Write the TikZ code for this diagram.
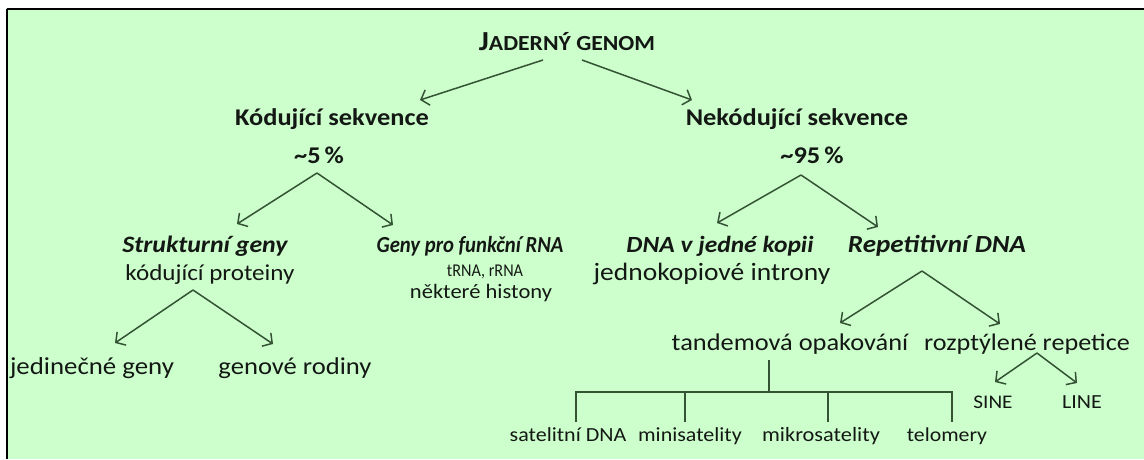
\documentclass[tikz,border=0pt]{standalone}
\usepackage{fontspec}
\setmainfont{Carlito}[FakeStretch=1.1]
\newfontfamily\narrowf{Carlito}[FakeStretch=0.9]
\usetikzlibrary{arrows.meta}
\definecolor{bg}{RGB}{204,255,204}
\definecolor{ln}{RGB}{52,82,52}
\definecolor{tx}{RGB}{20,24,20}
\tikzset{
  x=1pt, y=-1pt,
  lbl/.style={anchor=base, inner sep=0pt, text=tx, font=\fontsize{#1}{#1}\selectfont},
  lbl/.default=24,
  bold/.style={anchor=base, inner sep=0pt, text=tx, font=\fontsize{#1}{#1}\selectfont\bfseries},
  bold/.default=24,
  bi/.style={anchor=base, inner sep=0pt, text=tx, font=\fontsize{#1}{#1}\selectfont\bfseries\itshape},
  bi/.default=24,
  nlbl/.style={anchor=base, inner sep=0pt, text=tx, font=\narrowf\fontsize{#1}{#1}\selectfont},
  nbi/.style={anchor=base, inner sep=0pt, text=tx, font=\narrowf\fontsize{#1}{#1}\selectfont\bfseries\itshape},
  arr/.style={draw=ln, line width=1.5pt, -{Straight Barb[length=7pt,width=16pt,line width=1.5pt]}},
  tree/.style={draw=ln, line width=1.5pt},
}
\begin{document}
\begin{tikzpicture}
\useasboundingbox (0,0) rectangle (1144,459);
\fill[white] (0,0) rectangle (1144,459);
\fill[bg] (6,8) rectangle (1144,459);
\draw[line width=2.5pt] (7,9) -- (1144,9);
\draw[line width=2.5pt] (7,9) -- (7,459);

% texts
\node[bold] (title) at (567,50) {\fontsize{27.5}{30}\selectfont J\fontsize{21.5}{24}\selectfont ADERNÝ GENOM};
\node[bold=24] (kod) at (332,125) {Kódující sekvence};
\node[bold=24] (kodp) at (319,163) {\textasciitilde 5\,\%};
\node[bold=24] (nekod) at (797,125) {Nekódující sekvence};
\node[bold=24] (nekodp) at (812,163) {\textasciitilde 95\,\%};
\node[bi=23.5] (strukt) at (205,252) {Strukturní geny};
\node[lbl=22.8] (struktd) at (210,280) {kódující proteiny};
\node[nbi=23] (funk) at (470,252) {Geny pro funkční RNA};
\node[nlbl=18] (funkd1) at (485,276) {tRNA, rRNA};
\node[lbl=20.5] (funkd2) at (481,298) {některé histony};
\node[bi=23.2] (jedna) at (720,252) {DNA v jedné kopii};
\node[lbl=25] (jednad) at (712,280) {jednokopiové introny};
\node[bi=24.6] (rep) at (937,252) {Repetitivní DNA};
\node[lbl=24.4] (jed) at (92,374) {jedinečné geny};
\node[lbl=24.2] (genrod) at (295,374) {genové rodiny};
\node[lbl=24] (tand) at (790,350) {tandemová opakování};
\node[lbl=23.8] (rozp) at (1027,350) {rozptýlené repetice};
\node[lbl=20] (sat) at (568,441) {satelitní DNA};
\node[lbl=20] (mini) at (690,441) {minisatelity};
\node[lbl=20.3] (mikro) at (821,441) {mikrosatelity};
\node[lbl=19.8] (telo) at (947,441) {telomery};
\node[lbl=19.3] (sine) at (993,408) {SINE};
\node[lbl=20] (line) at (1082,408) {LINE};

% connector points
\coordinate (tA) at (543,60);  \coordinate (tB) at (582,60);
\coordinate (tL) at (420,100); \coordinate (tR) at (692,100);
\coordinate (kA) at (317,173);
\coordinate (kL) at (237,224); \coordinate (kR) at (393,225);
\coordinate (nA) at (801,175);
\coordinate (nL) at (717,223); \coordinate (nR) at (878,227);
\coordinate (sA) at (193,290);
\coordinate (sL) at (115,343); \coordinate (sR) at (273,344);
\coordinate (rA) at (922,271);
\coordinate (rL) at (840,323); \coordinate (rR) at (1000,324);
\coordinate (zA) at (1037,353);
\coordinate (zL) at (995,382); \coordinate (zR) at (1077,383);
\coordinate (tv) at (769,360);
\coordinate (b0) at (769,392);
\coordinate (b1) at (576,392); \coordinate (b1d) at (576,422);
\coordinate (b2) at (685,392); \coordinate (b2d) at (685,422);
\coordinate (b3) at (828,392); \coordinate (b3d) at (828,422);
\coordinate (b4) at (952,392); \coordinate (b4d) at (952,422);

% arrows
\draw[arr] (tA) -- (tL);
\draw[arr] (tB) -- (tR);
\draw[arr] (kA) -- (kL);
\draw[arr] (kA) -- (kR);
\draw[arr] (nA) -- (nL);
\draw[arr] (nA) -- (nR);
\draw[arr] (sA) -- (sL);
\draw[arr] (sA) -- (sR);
\draw[arr] (rA) -- (rL);
\draw[arr] (rA) -- (rR);
\draw[arr] (zA) -- (zL);
\draw[arr] (zA) -- (zR);

% tandem tree
\draw[tree] (tv) -- (b0);
\draw[tree] (b1d) -- (b1) -- (b4) -- (b4d);
\draw[tree] (b2) -- (b2d);
\draw[tree] (b3) -- (b3d);
\end{tikzpicture}
\end{document}
